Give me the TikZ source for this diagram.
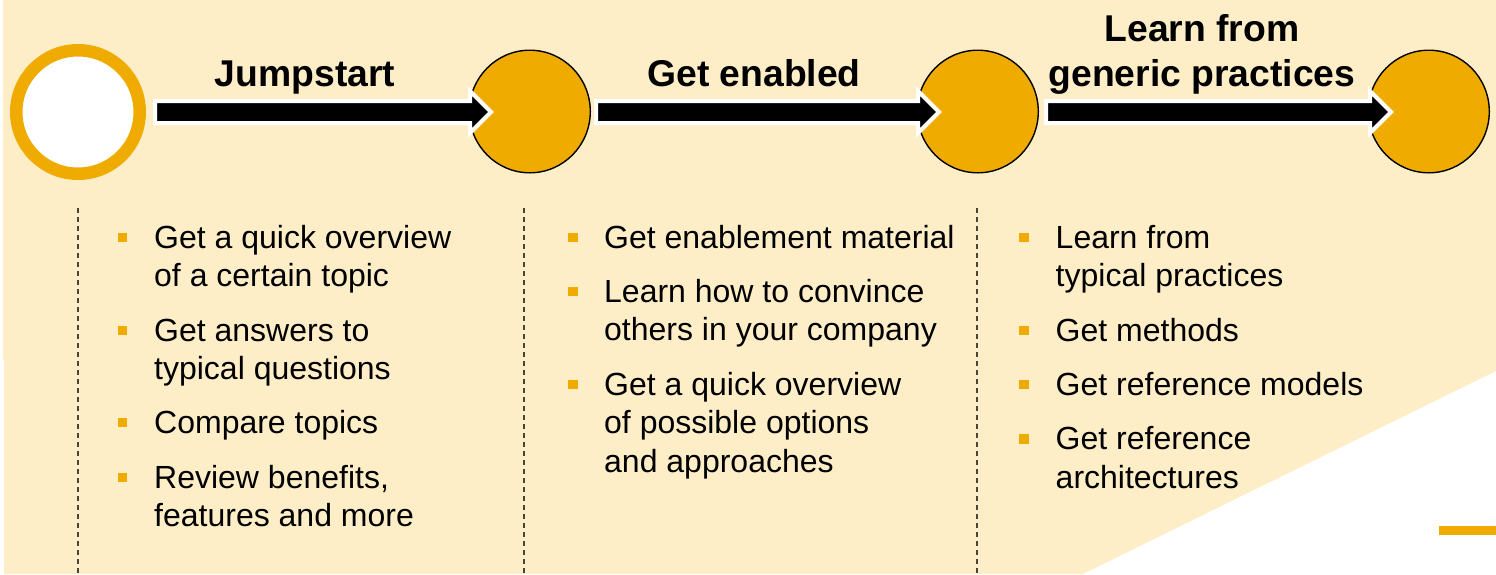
\documentclass[tikz,border=0pt]{standalone}
\usepackage{fontspec}
\setmainfont{Liberation Sans}
\usetikzlibrary{calc,shapes.geometric}
\definecolor{sapgold}{HTML}{F0AB00}
\definecolor{sapcream}{HTML}{FEEEC8}
\definecolor{dashgrey}{HTML}{4A4438}
\tikzset{
  panel/.style={fill=sapcream,draw=none},
  startdot/.style={circle,draw=sapgold,fill=white,line width=12.5pt,minimum size=123.5pt,inner sep=0},
  goaldot/.style={ellipse,draw=black,fill=sapgold,line width=1.4pt,minimum width=121pt,minimum height=122.6pt,inner sep=0},
  blockarrow/.style={fill=black,draw=white,line width=4pt,miter limit=10},
  stagetitle/.style={font=\bfseries\fontsize{37.3}{44.5}\selectfont,align=center,anchor=base,inner sep=0},
  itemtext/.style={font=\fontsize{32}{38.5}\selectfont,align=left,anchor=north west,inner sep=0,text=black},
  bulletmark/.style={rectangle,fill=sapgold,minimum size=9.5pt,inner sep=0},
  divider/.style={draw=dashgrey,line width=1.1pt,dash pattern=on 5pt off 4pt},
  cornerbar/.style={fill=sapgold,draw=none}
}
\newcommand{\blockarr}[2]{%
  \draw[blockarrow] ($(#1)+(0,-11)$) -- ($(#2)+(-21,-11)$) -- ($(#2)+(-21,-21)$) -- (#2)
    -- ($(#2)+(-21,21)$) -- ($(#2)+(-21,11)$) -- ($(#1)+(0,11)$) -- cycle;}
\newcommand{\bulletitem}[5]{% name, bullet x, text x, baseline y, text
  \node[bulletmark] (b#1) at (#2,#4-10.5) {};
  \node[itemtext,yshift=26.95pt] (t#1) at (#3,#4) {\strut #5};}
\begin{document}
\begin{tikzpicture}[x=1pt,y=-1pt]
\useasboundingbox (0,0) rectangle (1496,574);
\fill[panel] (3,0) -- (1496,0) -- (1496,371) -- (1083,574) -- (4,574) -- (4,360) -- (3,360) -- cycle;
\fill[cornerbar] (1439,526) rectangle (1496,535);

\node[startdot] (c0) at (78,112) {};
\node[goaldot] (c1) at (529.8,111.5) {};
\node[goaldot] (c2) at (977.8,111.5) {};
\node[goaldot] (c3) at (1428.8,111.5) {};

\coordinate (a1) at (155,112); \coordinate (h1) at (491,112);
\coordinate (a2) at (596,112); \coordinate (h2) at (939,112);
\coordinate (a3) at (1046,112); \coordinate (h3) at (1391,112);
\blockarr{a1}{h1}
\blockarr{a2}{h2}
\blockarr{a3}{h3}

\node[stagetitle] (s1) at (305,86) {Jumpstart};
\node[stagetitle] (s2) at (754,86) {Get enabled};
\node[stagetitle] (s3a) at (1202,41) {Learn from};
\node[stagetitle] (s3b) at (1202,86) {generic practices};

\coordinate (d1t) at (78,208); \coordinate (d1b) at (78,574);
\coordinate (d2t) at (524,208); \coordinate (d2b) at (524,574);
\coordinate (d3t) at (977,208); \coordinate (d3b) at (977,574);
\draw[divider] (d1t) -- (d1b);
\draw[divider] (d2t) -- (d2b);
\draw[divider] (d3t) -- (d3b);

\bulletitem{a}{122.5}{154}{248}{Get a quick overview\\of a certain topic}
\bulletitem{b}{122.5}{154}{341}{Get answers to\\typical questions}
\bulletitem{c}{122.5}{154}{433}{Compare topics}
\bulletitem{d}{122.5}{154}{488}{Review benefits,\\features and more}

\bulletitem{e}{573}{604}{248}{Get enablement material}
\bulletitem{f}{573}{604}{302}{Learn how to convince\\others in your company}
\bulletitem{g}{573}{604}{395}{Get a quick overview\\of possible options\\and approaches}

\bulletitem{h}{1024}{1055.5}{248}{Learn from\\typical practices}
\bulletitem{i}{1024}{1055.5}{341}{Get methods}
\bulletitem{j}{1024}{1055.5}{395}{Get reference models}
\bulletitem{k}{1024}{1055.5}{449.5}{Get reference\\architectures}
\end{tikzpicture}
\end{document}
